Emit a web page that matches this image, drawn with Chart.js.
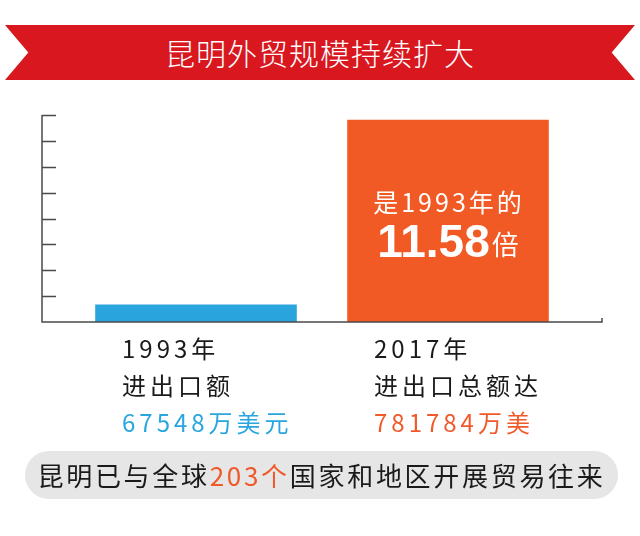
<!DOCTYPE html>
<html>
<head>
<meta charset="utf-8">
<script src="https://cdn.jsdelivr.net/npm/chart.js@4/dist/chart.umd.min.js"></script>
<style>
  html, body { margin: 0; padding: 0; background: #fff; }
  #wrap { position: relative; width: 640px; height: 536px; overflow: hidden; }
  #chart { position: absolute; left: 0; top: 0; }
  .ribbon {
    position: absolute; left: 5px; top: 25px; width: 630px; height: 55px;
    background: #d8171f;
    clip-path: polygon(0 0, 100% 0, 96.3% 50%, 100% 100%, 0 100%, 3.7% 50%);
    color: #fff; text-align: center; line-height: 55px;
    font-family: "Noto Sans CJK SC", sans-serif; font-weight: 300; font-size: 30px; letter-spacing: 1px;
  }
  .note {
    position: absolute; left: 25px; top: 451px; width: 593px; height: 48px;
    background: #e6e6e6; border-radius: 24px;
    text-align: center; line-height: 48px; color: #1a1a1a;
    font-family: "Noto Sans CJK SC", sans-serif; font-size: 26px; letter-spacing: 2.7px;
  }
  .note span { color: #f0592a; }
</style>
</head>
<body>
<div id="wrap">
  <canvas id="chart" width="640" height="536"></canvas>
  <div class="ribbon">昆明外贸规模持续扩大</div>
  <div class="note">昆明已与全球<span>203个</span>国家和地区开展贸易往来</div>
</div>
<script>
// 进出口总额（万美元）
const categories = ['1993年', '2017年'];
const tradeValues = [67548, 781784];
const yMax = 800000;
const yStep = 100000;
const labelLines = [
    ['1993年', '进出口额', '67548万美元'],
    ['2017年', '进出口总额达', '781784万美']
];
const barNote = ['是1993年的', '11.58', '倍'];

const barColors = ['#29a4dd', '#f15a24'];
const valueColors = ['#29a6de', '#f0592a'];
const CJK = '"Noto Sans CJK SC", sans-serif';

const framePlugin = {
    id: 'frame',
    afterDatasetsDraw(chart) {
        const ctx = chart.ctx;
        const area = chart.chartArea;
        const x = chart.scales.x;
        const y = chart.scales.y;
        const axisLeft = area.left - 28;
        const axisRight = area.right + 28;
        const base = y.getPixelForValue(0);

        ctx.save();
        ctx.strokeStyle = '#4a4a4a';
        ctx.lineWidth = 1.5;
        ctx.beginPath();
        ctx.moveTo(axisLeft, y.getPixelForValue(yMax));
        ctx.lineTo(axisLeft, base);
        ctx.lineTo(axisRight, base);
        ctx.lineTo(axisRight, base - 4);
        y.ticks.forEach(t => {
            if (t.value === 0) return;
            const py = Math.round(y.getPixelForValue(t.value)) + 0.5;
            ctx.moveTo(axisLeft, py);
            ctx.lineTo(axisLeft + 14, py);
        });
        ctx.stroke();

        // category labels under the bars
        ctx.textBaseline = 'middle';
        ctx.textAlign = 'left';
        ctx.font = '24px ' + CJK;
        ctx.letterSpacing = '4px';
        categories.forEach((c, i) => {
            const lx = x.getPixelForValue(i) - 74;
            labelLines[i].forEach((line, j) => {
                ctx.fillStyle = j === 2 ? valueColors[i] : '#1a1a1a';
                ctx.fillText(line, lx, base + 27 + j * 37);
            });
        });

        // note inside the 2017 bar
        const bar = chart.getDatasetMeta(0).data[1];
        const cx = bar.x;
        const cy = (bar.y + bar.base) / 2;
        ctx.fillStyle = '#ffffff';
        ctx.textAlign = 'center';
        ctx.letterSpacing = '3px';
        ctx.font = '25px ' + CJK;
        ctx.fillText(barNote[0], cx + 1, cy - 18);

        ctx.letterSpacing = '0px';
        ctx.textBaseline = 'alphabetic';
        ctx.textAlign = 'left';
        ctx.font = 'bold 46px "Liberation Sans", Arial, sans-serif';
        const w1 = ctx.measureText(barNote[1]).width;
        ctx.font = '27px ' + CJK;
        const w2 = ctx.measureText(barNote[2]).width;
        const sx = cx - (w1 + w2 + 2) / 2;
        ctx.font = 'bold 46px "Liberation Sans", Arial, sans-serif';
        ctx.fillText(barNote[1], sx, cy + 36);
        ctx.font = '27px ' + CJK;
        ctx.fillText(barNote[2], sx + w1 + 2, cy + 34);
        ctx.restore();
    }
};

new Chart(document.getElementById('chart'), {
    type: 'bar',
    data: {
        labels: categories,
        datasets: [{
            data: tradeValues,
            backgroundColor: barColors,
            borderWidth: 0,
            barPercentage: 1,
            categoryPercentage: 0.8
        }]
    },
    options: {
        responsive: false,
        animation: false,
        devicePixelRatio: 1,
        layout: { padding: { left: 70, right: 66, top: 115, bottom: 214 } },
        plugins: {
            legend: { display: false },
            tooltip: { enabled: false }
        },
        scales: {
            x: { display: false },
            y: {
                display: false,
                min: 0,
                max: yMax,
                ticks: { stepSize: yStep }
            }
        }
    },
    plugins: [framePlugin]
});
</script>
</body>
</html>
